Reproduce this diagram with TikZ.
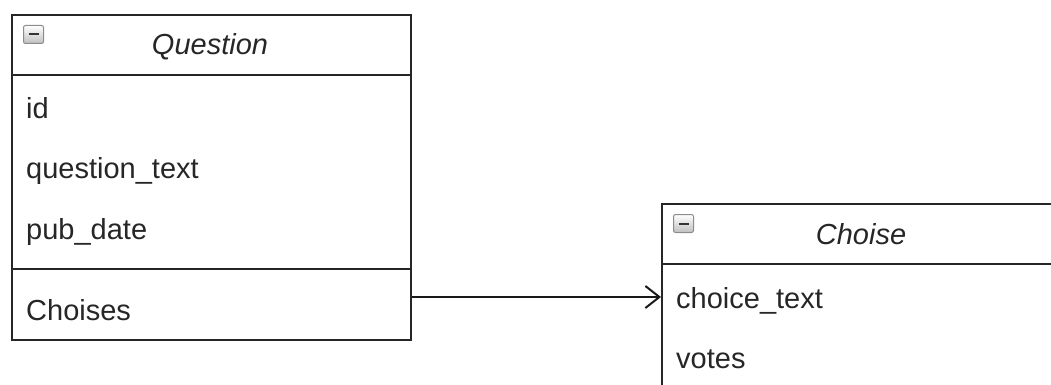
\documentclass[tikz,border=0pt]{standalone}
\usepackage{fontspec}
\setmainfont{Liberation Sans}
\usetikzlibrary{arrows.meta}
\tikzset{
  umlbox/.style={draw=black!85, line width=2pt, anchor=north west, inner sep=0pt},
  sepline/.style={draw=black!85, line width=2pt},
  attr/.style={anchor=base west, inner sep=0pt, text=black!85, font=\fontsize{29}{35}\selectfont},
  title/.style={anchor=base, inner sep=0pt, text=black!85, font=\fontsize{29}{35}\selectfont\itshape},
  minusicon/.style={draw=black!45, line width=1pt, rounded corners=2pt, top color=white, bottom color=black!25, minimum width=20pt, minimum height=18pt, anchor=north west, inner sep=0pt},
  assoc/.style={draw=black!90, line width=2pt, -{Straight Barb[length=14pt,width=22pt,line width=2pt]}}
}
\begin{document}
\begin{tikzpicture}[x=1pt,y=-1pt]
\useasboundingbox (0,0) rectangle (1051,385);
\clip (0,0) rectangle (1051,385);
% Question class
\node[umlbox, minimum width=399pt, minimum height=325pt] (q) at (11,14) {};
\draw[sepline] (11,75) -- (410,75);
\draw[sepline] (11,269) -- (410,269);
\node[minusicon] (qicon) at (23,25) {};
\draw[black!80, line width=2pt] ([xshift=5pt]qicon.center) -- ([xshift=-5pt]qicon.center);
\node[title] (qtitle) at (210,55) {Question};
\node[attr] (qid) at (26,118) {id};
\node[attr] (qqt) at (26,178) {question\_text};
\node[attr] (qpd) at (26,239) {pub\_date};
\node[attr] (qch) at (26,320) {Choises};
% Choise class
\node[umlbox, minimum width=420pt, minimum height=240pt] (c) at (661,203) {};
\draw[sepline] (661,264) -- (1081,264);
\node[minusicon] (cicon) at (673,214) {};
\draw[black!80, line width=2pt] ([xshift=5pt]cicon.center) -- ([xshift=-5pt]cicon.center);
\node[title] (ctitle) at (861,244) {Choise};
\node[attr] (cct) at (676,308) {choice\_text};
\node[attr] (cvt) at (676,368) {votes};
% association
\coordinate (aend) at (661,297);
\draw[assoc] (q.east |- aend) -- (aend);
\end{tikzpicture}
\end{document}
